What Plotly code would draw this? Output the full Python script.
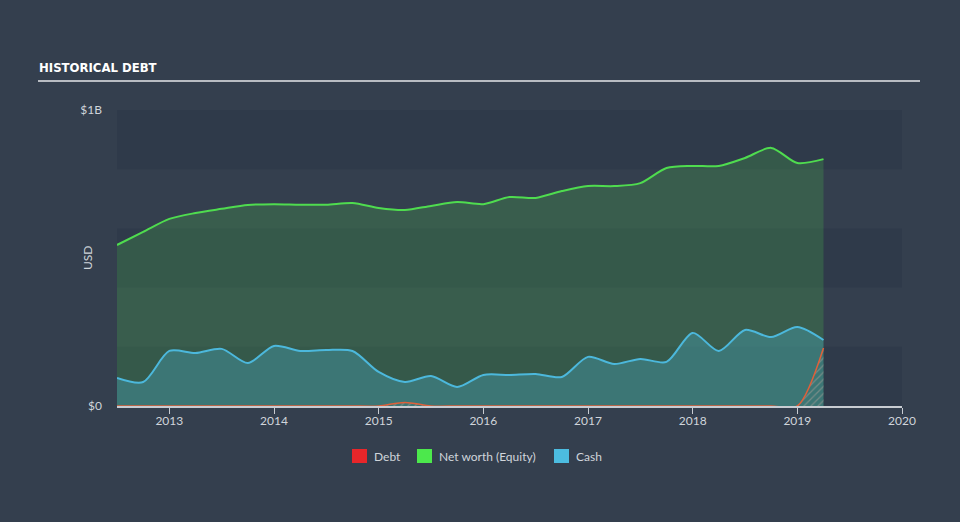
import plotly.graph_objects as go

quarters = [2012.5, 2012.75, 2013.0, 2013.25, 2013.5, 2013.75, 2014.0, 2014.25, 2014.5, 2014.75,
            2015.0, 2015.25, 2015.5, 2015.75, 2016.0, 2016.25, 2016.5, 2016.75, 2017.0, 2017.25,
            2017.5, 2017.75, 2018.0, 2018.25, 2018.5, 2018.75, 2019.0, 2019.25]

equity = [0.544, 0.588, 0.632, 0.652, 0.666, 0.679, 0.682, 0.680, 0.680, 0.686,
          0.669, 0.662, 0.676, 0.689, 0.682, 0.706, 0.703, 0.726, 0.743, 0.743,
          0.753, 0.804, 0.811, 0.811, 0.838, 0.872, 0.821, 0.834]

cash = [0.095, 0.081, 0.186, 0.179, 0.193, 0.145, 0.203, 0.186, 0.189, 0.186,
        0.115, 0.081, 0.101, 0.064, 0.105, 0.105, 0.108, 0.098, 0.166, 0.142,
        0.159, 0.149, 0.247, 0.186, 0.257, 0.233, 0.267, 0.223]

debt = [0, 0, 0, 0, 0, 0, 0, 0, 0, 0,
        0, 0.012, 0, 0, 0, 0, 0, 0, 0, 0,
        0, 0, 0, 0, 0, 0, 0, 0.196]

year_ticks = [2013, 2014, 2015, 2016, 2017, 2018, 2019, 2020]
y_ticks = [0, 1]
y_labels = ["$0", "$1B"]

legend_names = ["Debt", "Net worth (Equity)", "Cash"]
legend_colors = ["#e8262a", "#4ce84c", "#4cbce0"]

BG = "#343f4e"
DARK = "#2f3a4a"
TXT = "#d0d5db"
FONT = "Lato, 'Open Sans', sans-serif"

W, H = 960, 522
L, R, T, B = 117, 58, 110, 116
PW, PH = W - L - R, H - T - B


def px_x(px):
    return (px - L) / PW


def px_y(py):
    return (H - B - py) / PH


fig = go.Figure()

fig.add_trace(go.Scatter(
    x=quarters, y=equity, mode="lines", line=dict(color="#4fdc4f", width=2, shape="spline", smoothing=0.8),
    fill="tozeroy", fillcolor="rgba(76,200,76,0.22)", showlegend=False, hoverinfo="skip"))
fig.add_trace(go.Scatter(
    x=quarters, y=cash, mode="lines", line=dict(color="#4cb8dc", width=2, shape="spline", smoothing=0.8),
    fill="tozeroy", fillcolor="rgba(76,184,220,0.30)", showlegend=False, hoverinfo="skip"))
fig.add_trace(go.Scatter(
    x=quarters, y=debt, mode="lines", line=dict(color="#e0603a", width=1.5, shape="spline", smoothing=0.8),
    fill="tozeroy", fillcolor="rgba(0,0,0,0)",
    fillpattern=dict(shape="/", fgcolor="rgba(210,175,165,0.75)", bgcolor="rgba(0,0,0,0)", size=5, solidity=0.25),
    showlegend=False, hoverinfo="skip"))

shapes = []
for y0 in [0.0, 0.4, 0.8]:
    shapes.append(dict(type="rect", xref="paper", yref="y", x0=0, x1=1, y0=y0, y1=y0 + 0.2,
                       fillcolor=DARK, line=dict(width=0), layer="below"))
shapes.append(dict(type="line", xref="paper", yref="paper", x0=px_x(38), x1=px_x(920), y0=px_y(81), y1=px_y(81),
                   line=dict(color="#b8bcc2", width=2)))

annotations = [
    dict(text="<b>HISTORICAL DEBT</b>", xref="paper", yref="paper", x=px_x(37), y=px_y(67),
         xanchor="left", yanchor="middle", showarrow=False,
         font=dict(family="'DejaVu Sans Condensed'", size=13, color="#ffffff")),
    dict(text="USD", xref="paper", yref="paper", x=px_x(87), y=0.5, textangle=-90,
         xanchor="center", yanchor="middle", showarrow=False, font=dict(family=FONT, size=12, color=TXT)),
]

# manual legend (squares + labels)
legend_sq_x = [352, 417, 554]
for sx, name, col in zip(legend_sq_x, legend_names, legend_colors):
    shapes.append(dict(type="rect", xref="paper", yref="paper", x0=px_x(sx), x1=px_x(sx + 15),
                       y0=px_y(463), y1=px_y(449), fillcolor=col, line=dict(width=0)))
    annotations.append(dict(text=name, xref="paper", yref="paper", x=px_x(sx + 20), y=px_y(456),
                            xanchor="left", yanchor="middle", showarrow=False,
                            font=dict(family=FONT, size=12, color=TXT)))

fig.update_layout(
    width=W, height=H,
    paper_bgcolor=BG, plot_bgcolor=BG,
    margin=dict(l=L, r=R, t=T, b=B),
    font=dict(family=FONT, color=TXT, size=12),
    shapes=shapes,
    annotations=annotations,
    showlegend=False,
    xaxis=dict(range=[2012.5, 2020.0], tickvals=year_ticks, ticktext=[str(t) for t in year_ticks],
               showgrid=False, zeroline=False, showline=True, linecolor="#c8ccd2", linewidth=1.5,
               ticks="outside", ticklen=6, tickcolor="#c8ccd2", tickfont=dict(color=TXT, size=12),
               ticklabelstandoff=-3),
    yaxis=dict(range=[0, 1.0], tickvals=y_ticks, ticktext=y_labels, showgrid=False, zeroline=False,
               showline=False, ticks="", ticklabelstandoff=14, tickfont=dict(color=TXT, size=12)),
)

fig.write_html("out.html", config={"displayModeBar": False},
               post_script=["document.body.style.margin='0';document.body.style.overflow='hidden';"])
